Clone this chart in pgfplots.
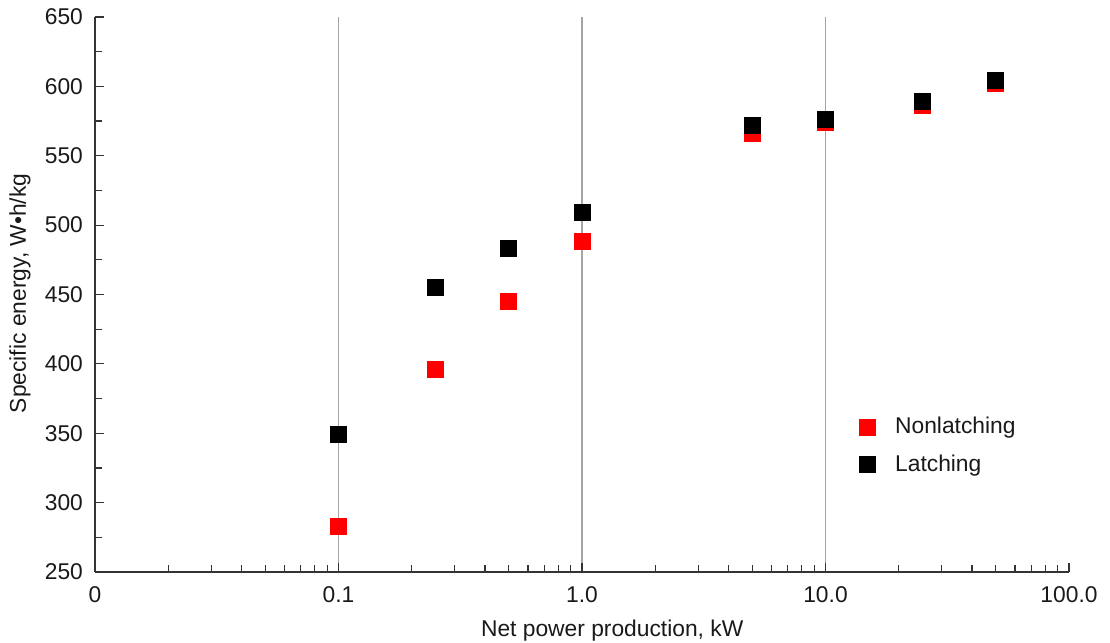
\documentclass[border=0pt]{standalone}
\usepackage{pgfplots}
\pgfplotsset{compat=1.18}
\usepackage{fontspec}
\setmainfont{Liberation Sans}
\definecolor{gridgray}{RGB}{165,165,165}
\definecolor{txt}{RGB}{25,25,25}
\begin{document}
\begin{tikzpicture}
\useasboundingbox (-47.5pt,-35.5pt) rectangle (507.5pt,286pt);
\begin{axis}[
  scale only axis,
  width=487pt, height=277.5pt,
  xmode=log, log basis x=10,
  xmin=0.01, xmax=100,
  ymin=250, ymax=650,
  xtick={0.01,0.1,1,10,100},
  xticklabels={0,0.1,1.0,10.0,100.0},
  minor xtick={0.02,0.03,0.04,0.05,0.06,0.07,0.08,0.09,
               0.2,0.3,0.4,0.5,0.6,0.7,0.8,0.9,
               2,3,4,5,6,7,8,9,
               20,30,40,50,60,70,80,90},
  ytick={250,300,...,650},
  minor ytick={275,325,...,625},
  axis x line*=bottom, axis y line*=left,
  xtick align=inside, ytick align=inside,
  major tick length=4.5pt, minor tick length=3.3pt,
  every tick/.style={black!80, line width=0.6pt},
  axis line style={black!80, line width=0.7pt},
  extra x ticks={0.1,1,10},
  extra x tick labels={},
  extra x tick style={grid=major, major grid style={gridgray, line width=0.7pt}},
  /pgf/number format/assume math mode=true,
  yticklabel style={/pgf/number format/fixed, xshift=-2.5pt},
  xticklabel style={yshift=-4pt},
  tick label style={font=\fontsize{11.4}{13}\selectfont, text=txt},
  label style={font=\fontsize{11.4}{13}\selectfont, text=txt},
  xlabel={Net power production, kW},
  ylabel={Specific energy, W\char"2022h/kg},
  xlabel style={at={(axis description cs:0.531,-0.105)}, anchor=center},
  ylabel style={at={(axis description cs:-0.077,0.502)}, anchor=center},
  legend style={at={(axis description cs:0.778,0.294)}, anchor=north west, draw=none, fill=none,
    font=\fontsize{11.4}{13}\selectfont, text=txt, row sep=5pt,
    /tikz/every odd column/.append style={column sep=8pt}},
  legend cell align=left,
  clip=false,
]
\addplot[only marks, mark=square*, mark size=4pt, color=red, mark options={fill=red, draw=red}]
coordinates {(0.1,283) (0.25,396) (0.5,445) (1,488) (5,566) (10,574) (25,586) (50,602)};
\addlegendentry{Nonlatching}
\addplot[only marks, mark=square*, mark size=4pt, color=black, mark options={fill=black, draw=black}]
coordinates {(0.1,349) (0.25,455) (0.5,483.5) (1,509) (5,572) (10,576.5) (25,589) (50,604)};
\addlegendentry{Latching}
\end{axis}
\end{tikzpicture}
\end{document}
